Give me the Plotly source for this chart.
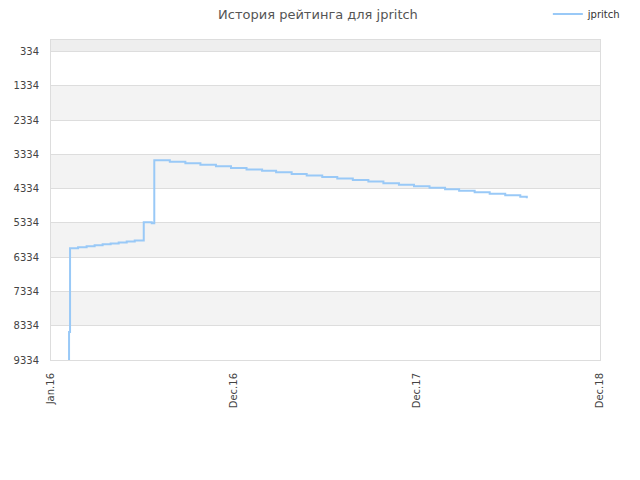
import plotly.graph_objects as go

dates = ["2016-02-04", "2016-02-06", "2016-02-08", "2016-02-24", "2016-03-12", "2016-03-28",
         "2016-04-13", "2016-04-29", "2016-05-15", "2016-05-31", "2016-06-16", "2016-07-04",
         "2016-07-20", "2016-07-25",
         "2016-08-25", "2016-09-25", "2016-10-25", "2016-11-25", "2016-12-25", "2017-01-25",
         "2017-02-25", "2017-03-25", "2017-04-25", "2017-05-25", "2017-06-25", "2017-07-25",
         "2017-08-25", "2017-09-25", "2017-10-25", "2017-11-25", "2017-12-25", "2018-01-25",
         "2018-02-25", "2018-03-25", "2018-04-25", "2018-05-25", "2018-06-25", "2018-07-25",
         "2018-08-07"]
ratings = [9334, 8520, 6072, 6045, 6015, 5990, 5960, 5935, 5905, 5875, 5845, 5315,
           5344, 3509,
           3550, 3595, 3640, 3685, 3730, 3775,
           3815, 3860, 3905, 3950, 3995, 4040,
           4085, 4130, 4175, 4220, 4265, 4310,
           4350, 4395, 4440, 4485, 4530, 4575,
           4616]

ytick_vals = [334, 1334, 2334, 3334, 4334, 5334, 6334, 7334, 8334, 9334]
xtick_vals = ["2016-01-01", "2016-12-31", "2017-12-31", "2018-12-31"]
xtick_text = ["Jan.16", "Dec.16", "Dec.17", "Dec.18"]

fig = go.Figure()
fig.add_trace(go.Scatter(x=dates, y=ratings, mode="lines", name="jpritch",
                         line=dict(color="#99c9f7", width=2, shape="hv")))

shapes = []
# top band above 334
shapes.append(dict(type="rect", xref="paper", yref="y", x0=0, x1=1, y0=0, y1=334,
                   fillcolor="#eeeeee", line_width=0, layer="below"))
for i in range(len(ytick_vals) - 1):
    if i % 2 == 1:
        shapes.append(dict(type="rect", xref="paper", yref="y", x0=0, x1=1,
                           y0=ytick_vals[i], y1=ytick_vals[i + 1],
                           fillcolor="#f3f3f3", line_width=0, layer="below"))

fig.update_layout(
    width=640, height=480,
    margin=dict(l=43, r=48, t=32, b=128, autoexpand=False),
    paper_bgcolor="white", plot_bgcolor="white",
    font=dict(family="DejaVu Sans", size=10, color="#444"),
    title=dict(text="История рейтинга для jpritch", x=(318 - 8) / 640, xanchor="center",
               y=1 - 2 / 480, yanchor="top", font=dict(size=13, color="#555")),
    showlegend=True,
    legend=dict(x=0.905, xanchor="left", y=1.081, yanchor="middle",
                bgcolor="rgba(0,0,0,0)", font=dict(size=10, color="#333")),
    shapes=shapes,
    xaxis=dict(type="date", range=["2016-01-01", "2018-12-31"], automargin=False,
               tickvals=xtick_vals, ticktext=xtick_text, tickangle=-90,
               showgrid=False, zeroline=False, showline=True, linecolor="#dddddd",
               mirror=True, ticks="", ticklabelstandoff=8,
               tickfont=dict(size=10, color="#444")),
    yaxis=dict(range=[9334, 0], tickvals=ytick_vals, automargin=False,
               showgrid=True, gridcolor="#dddddd", zeroline=False,
               showline=True, linecolor="#dddddd", mirror=True, ticks="",
               ticklabelstandoff=9,
               tickfont=dict(size=10, color="#444")),
)

fig.write_html("out.html")
